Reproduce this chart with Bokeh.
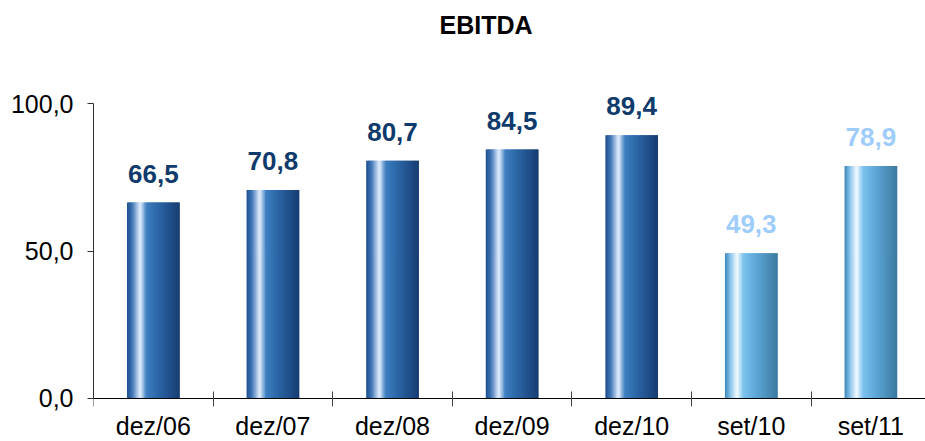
from bokeh.plotting import figure
from bokeh.models import ColumnDataSource, FixedTicker, Range1d
from bokeh.embed import file_html
from bokeh.resources import INLINE

# ---- data ----
title_text = "EBITDA"
categories = ["dez/06", "dez/07", "dez/08", "dez/09", "dez/10", "set/10", "set/11"]
values = [66.5, 70.8, 80.7, 84.5, 89.4, 49.3, 78.9]
groups = ["ano", "ano", "ano", "ano", "ano", "periodo", "periodo"]
y_ticks = [0, 50, 100]
y_tick_labels = ["0,0", "50,0", "100,0"]

# ---- style ----
FONT = "Liberation Sans"
BAR_W = 0.44
N_STRIPS = 40
STOPS = {
    "ano": [(0.0, "#1e4e8e"), (0.10, "#3f76b6"), (0.25, "#e6f0ff"), (0.37, "#3e7fc0"),
            (0.55, "#2e6bab"), (1.0, "#173c72")],
    "periodo": [(0.0, "#3a84b6"), (0.10, "#86c3ea"), (0.23, "#f4fbff"), (0.35, "#7cc2ee"),
                (0.55, "#62abdc"), (1.0, "#3b7aa0")],
}
LABEL_COLOR = {"ano": "#0f3a6c", "periodo": "#9fcdfb"}


def hex2rgb(h):
    h = h.lstrip("#")
    return tuple(int(h[i:i + 2], 16) for i in (0, 2, 4))


def grad(stops, t):
    for (t0, c0), (t1, c1) in zip(stops[:-1], stops[1:]):
        if t0 <= t <= t1:
            f = (t - t0) / (t1 - t0) if t1 > t0 else 0
            a, b = hex2rgb(c0), hex2rgb(c1)
            return "#%02x%02x%02x" % tuple(round(a[i] + (b[i] - a[i]) * f) for i in range(3))
    return stops[-1][1]


xs = list(range(len(categories)))
labels = [f"{v:.1f}".replace(".", ",") for v in values]

p = figure(width=925, height=441, output_backend="svg", toolbar_location=None,
           x_range=Range1d(-0.5, 6.457), y_range=Range1d(-14.63, 119.5),
           min_border_left=93, min_border_right=0, min_border_top=30, min_border_bottom=0)

p.title.text = title_text
p.title.align = "left"
p.title.vertical_align = "bottom"
p.title.offset = 346
p.title.standoff = 16
p.title.text_font = FONT
p.title.text_font_size = "25px"
p.title.text_font_style = "bold"
p.title.text_color = "black"

p.grid.visible = False
p.outline_line_color = None

# gradient bars drawn as thin vertical strips
sw = BAR_W / N_STRIPS
for i in range(N_STRIPS):
    t = (i + 0.5) / N_STRIPS
    w = sw if i == N_STRIPS - 1 else sw * 2
    src = ColumnDataSource(dict(
        x=[x - BAR_W / 2 + i * sw + w / 2 for x in xs],
        top=values,
        color=[grad(STOPS[g], t) for g in groups],
    ))
    p.vbar(x="x", top="top", width=w, bottom=0, source=src,
           fill_color="color", line_color=None)

lab_src = ColumnDataSource(dict(x=xs, y=values, text=labels,
                                color=[LABEL_COLOR[g] for g in groups]))
p.text(x="x", y="y", text="text", source=lab_src, text_align="center",
       text_baseline="alphabetic", y_offset=-29, text_color="color",
       text_font_size="26px", text_font_style="bold", text_font={"value": FONT})

# y axis
ya = p.yaxis[0]
ya.ticker = FixedTicker(ticks=y_ticks, minor_ticks=[])
ya.major_label_overrides = {t: s for t, s in zip(y_ticks, y_tick_labels)}
ya.bounds = (0, 100)
ya.axis_line_color = "#333333"
ya.major_tick_line_color = "#333333"
ya.major_tick_out = 6
ya.major_tick_in = 0
ya.minor_tick_line_color = None
ya.major_label_text_font = FONT
ya.major_label_text_font_size = "25px"
ya.major_label_text_color = "black"
ya.major_label_standoff = 14

# x axis at y=0 inside the frame: labels at centers, separator ticks at boundaries
xa = p.xaxis[0]
xa.fixed_location = 0
xa.ticker = FixedTicker(ticks=xs, minor_ticks=[x - 0.5 for x in xs] + [len(xs) - 0.5])
xa.major_label_overrides = {x: c for x, c in zip(xs, categories)}
xa.axis_line_color = "black"
xa.major_tick_line_color = None
xa.major_tick_out = 0
xa.major_tick_in = 0
xa.minor_tick_line_color = "#444444"
xa.minor_tick_line_width = 1
xa.minor_tick_in = 7
xa.minor_tick_out = 8
xa.major_label_text_font = FONT
xa.major_label_text_font_size = "25px"
xa.major_label_text_color = "black"
xa.major_label_standoff = 6

open("out.html", "w").write(file_html(p, INLINE))
